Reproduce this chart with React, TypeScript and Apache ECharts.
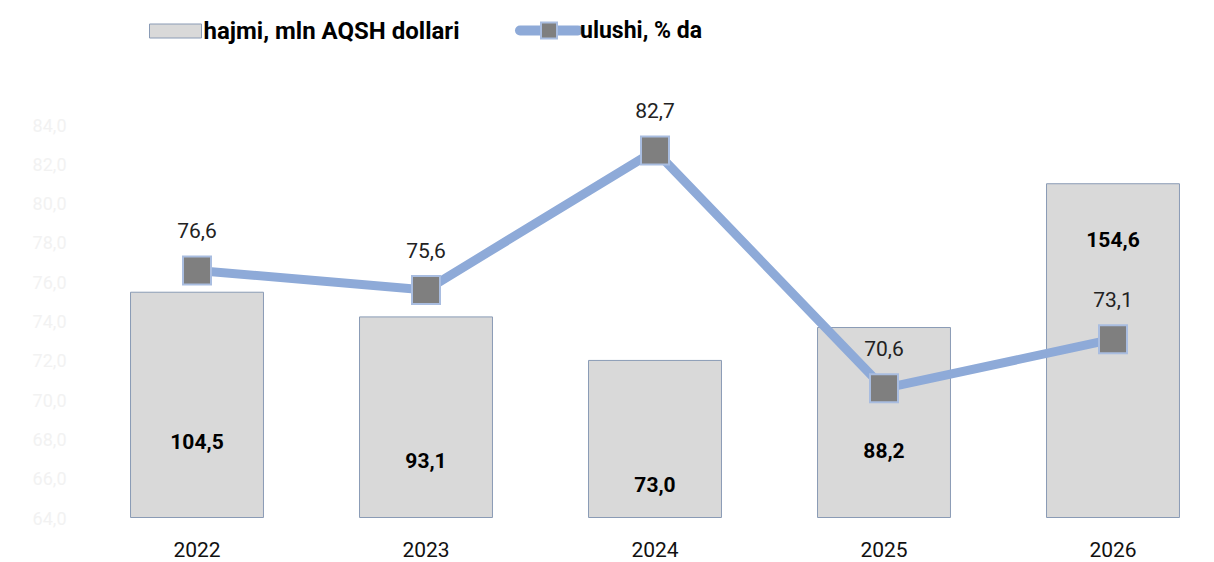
import React, { useEffect, useRef } from "react";
import * as echarts from "echarts";

const categories = ["2022", "2023", "2024", "2025", "2026"];
const volumeValues = [104.5, 93.1, 73.0, 88.2, 154.6];
const shareValues = [76.6, 75.6, 82.7, 70.6, 73.1];
const volumeName = "hajmi, mln AQSH dollari";
const shareName = "ulushi, % da";
// label distances from bar bottom (manually placed labels in the original)
const barLabelDistances = [66, 47, 23, 57, 268];

const fmt = (v: number) => v.toFixed(1).replace(".", ",");

export default function App() {
  const ref = useRef<HTMLDivElement>(null);
  useEffect(() => {
    if (!ref.current) return;
    const chart = echarts.init(ref.current, null, { renderer: "svg" });
    const font = "Roboto, 'Noto Sans', sans-serif";
    const legendText = { fontWeight: "bold", color: "#000", fontFamily: font, padding: [0, 0, 0, -3] };
    chart.setOption({
      animation: false,
      backgroundColor: "#fff",
      textStyle: { fontFamily: font },
      legend: [
        {
          data: [{ name: volumeName, icon: "rect" }],
          left: 144,
          top: 14,
          itemWidth: 52,
          itemHeight: 14,
          textStyle: { ...legendText, fontSize: 24 },
          itemStyle: { borderColor: "#8a9bb5", borderWidth: 1 },
        },
        {
          data: [shareName],
          left: 510,
          top: 14,
          itemWidth: 58,
          itemHeight: 20,
          textStyle: { ...legendText, fontSize: 23 },
          lineStyle: { width: 10, cap: "round" },
        },
      ],
      grid: { left: 82.5, top: 125, width: 1145, height: 393, outerBoundsMode: "none" },
      xAxis: {
        type: "category",
        data: categories,
        axisLine: { show: false },
        axisTick: { show: false },
        axisLabel: { fontSize: 21, color: "#111", margin: 21, fontFamily: font },
      },
      yAxis: [
        {
          type: "value",
          min: 64,
          max: 84,
          interval: 2,
          splitLine: { show: false },
          axisLine: { show: false },
          axisTick: { show: false },
          axisLabel: { formatter: (v: number) => fmt(v), color: "#f2f2f2", fontSize: 18, margin: 16, fontFamily: font },
        },
        {
          type: "value",
          min: 0,
          max: 181.5,
          show: false,
          splitLine: { show: false },
        },
      ],
      series: [
        {
          name: volumeName,
          type: "bar",
          yAxisIndex: 1,
          barWidth: "58.5%",
          itemStyle: { color: "#d9d9d9", borderColor: "#8a9bb5", borderWidth: 1 },
          data: volumeValues.map((v, i) => ({
            value: v,
            label: { distance: barLabelDistances[i] },
          })),
          label: {
            show: true,
            position: "insideBottom",
            formatter: (p: any) => fmt(p.value),
            fontSize: 21,
            fontWeight: "bold",
            color: "#000",
            fontFamily: font,
          },
          z: 1,
        },
        {
          name: shareName,
          type: "line",
          yAxisIndex: 0,
          data: shareValues,
          symbol: "rect",
          symbolSize: 28,
          lineStyle: { color: "#8eaad8", width: 9 },
          itemStyle: { color: "#7f7f7f", borderColor: "#a9bde0", borderWidth: 2 },
          label: {
            show: true,
            position: "top",
            distance: 14,
            formatter: (p: any) => fmt(p.value),
            fontSize: 21,
            color: "#222",
            fontFamily: font,
          },
          z: 3,
        },
      ],
    });
    return () => chart.dispose();
  }, []);
  return <div ref={ref} style={{ position: "absolute", left: 0, top: 0, width: 1214, height: 562 }} />;
}
